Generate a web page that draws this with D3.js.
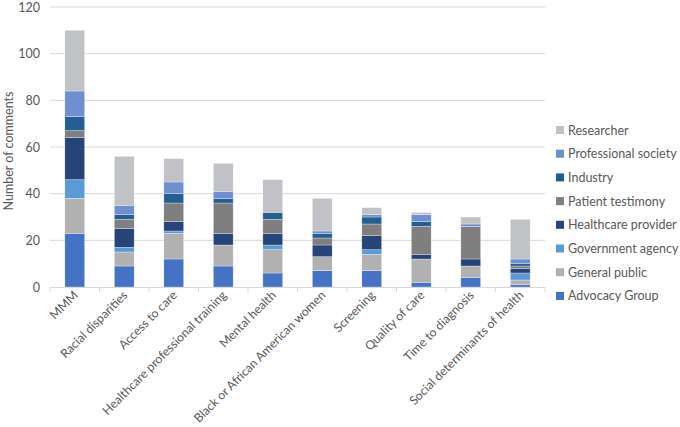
<!DOCTYPE html>
<html><head><meta charset="utf-8">
<script src="https://cdn.jsdelivr.net/npm/d3@7"></script>
<style>body{margin:0;background:#fff}svg{font-family:Lato,"Open Sans",sans-serif}</style>
</head><body><svg id="c" width="680" height="427"></svg>
<script>
const categories = ["MMM","Racial disparities","Access to care","Healthcare professional training","Mental health","Black or African American women","Screening","Quality of care","Time to diagnosis","Social determinants of health"];
const advocacyGroup     = [23, 9,12, 9, 6, 7, 7, 2, 4, 1];
const generalPublic     = [15, 6,11, 9,10, 6, 7,10, 5, 2];
const governmentAgency  = [ 8, 2, 1, 0, 2, 0, 2, 0, 0, 3];
const healthcareProvider= [18, 8, 4, 5, 5, 5, 6, 2, 3, 2];
const patientTestimony  = [ 3, 4, 8,13, 6, 3, 5,12,14, 1];
const industry          = [ 6, 2, 4, 2, 3, 2, 3, 2, 0, 1];
const professionalSociety=[11, 4, 5, 3, 0, 1, 1, 3, 1, 2];
const researcher        = [26,21,10,12,14,14, 3, 1, 3,17];
const seriesNames = ["Advocacy Group","General public","Government agency","Healthcare provider","Patient testimony","Industry","Professional society","Researcher"];
const seriesValues = [advocacyGroup,generalPublic,governmentAgency,healthcareProvider,patientTestimony,industry,professionalSociety,researcher];
const colors = ["#4472c4","#b1b1b1","#5b9bd5","#264478","#7f7f7f","#255e91","#6f8fce","#c1c2c5"];
const yTicks = [0,20,40,60,80,100,120];

const svg = d3.select("#c");
const m = {l:50, r:545, t:7, b:287};
const x = d3.scaleBand().domain(categories).range([m.l, m.r]).paddingInner(0.6).paddingOuter(0.3);
const xb = d3.scaleBand().domain(categories).range([m.l, m.r]);
const y = d3.scaleLinear().domain([0,120]).range([m.b, m.t]);

// gridlines
svg.append("g").selectAll("line").data(yTicks.filter(d=>d>0)).join("line")
  .attr("x1", m.l).attr("x2", m.r).attr("y1", d=>y(d)).attr("y2", d=>y(d))
  .attr("stroke", "#d9d9d9").attr("stroke-width", 1);

// y axis labels
const ya = svg.append("g").attr("transform", `translate(${m.l},0)`)
  .call(d3.axisLeft(y).tickValues(yTicks).tickSize(0).tickPadding(10));
ya.select(".domain").remove();
ya.selectAll("text").attr("fill","#595959").style("font-size","12.5px").style("font-family","Lato, 'Open Sans', sans-serif");

// stack
const rows = categories.map((c,i)=>{const o={cat:c}; seriesNames.forEach((s,j)=>o[s]=seriesValues[j][i]); return o;});
const stack = d3.stack().keys(seriesNames)(rows);
svg.append("g").selectAll("g").data(stack).join("g").attr("fill",(d,i)=>colors[i])
  .selectAll("rect").data(d=>d).join("rect")
  .attr("x", d=>x(d.data.cat)).attr("width", x.bandwidth())
  .attr("y", d=>y(d[1])).attr("height", d=>y(d[0])-y(d[1]))
  .attr("stroke","#ffffff").attr("stroke-width",0.5).attr("stroke-opacity",0.6);

// x axis
const xa = svg.append("g").attr("transform", `translate(0,${m.b})`)
  .call(d3.axisBottom(xb).tickSize(0).tickPadding(0));
xa.select(".domain").attr("stroke","#d9d9d9");
// ticks at band edges
svg.append("g").selectAll("line").data(categories.concat(["__end"])).join("line")
  .attr("x1",(d,i)=>m.l+i*xb.bandwidth()).attr("x2",(d,i)=>m.l+i*xb.bandwidth())
  .attr("y1",m.b).attr("y2",m.b+5).attr("stroke","#d9d9d9");
xa.selectAll("text").attr("fill","#595959").style("font-size","12.2px")
  .style("font-family","Lato, 'Open Sans', sans-serif")
  .attr("text-anchor","end").attr("dy",0)
  .attr("transform","translate(4,9) rotate(-45)");

// y title
svg.append("text").attr("transform",`translate(13,${(m.t+m.b)/2+4}) rotate(-90)`)
  .attr("text-anchor","middle").attr("fill","#595959").style("font-size","12.5px")
  .text("Number of comments");

// legend
const legOrder = seriesNames.map((s,i)=>({s,c:colors[i]})).reverse();
const lg = svg.append("g").selectAll("g").data(legOrder).join("g")
  .attr("transform",(d,i)=>`translate(556,${130+i*23.7})`);
lg.append("rect").attr("x",0).attr("y",-4).attr("width",8).attr("height",8).attr("fill",d=>d.c);
lg.append("text").attr("x",12).attr("y",4.5).attr("fill","#595959").style("font-size","12.5px").text(d=>d.s);
</script></body></html>
